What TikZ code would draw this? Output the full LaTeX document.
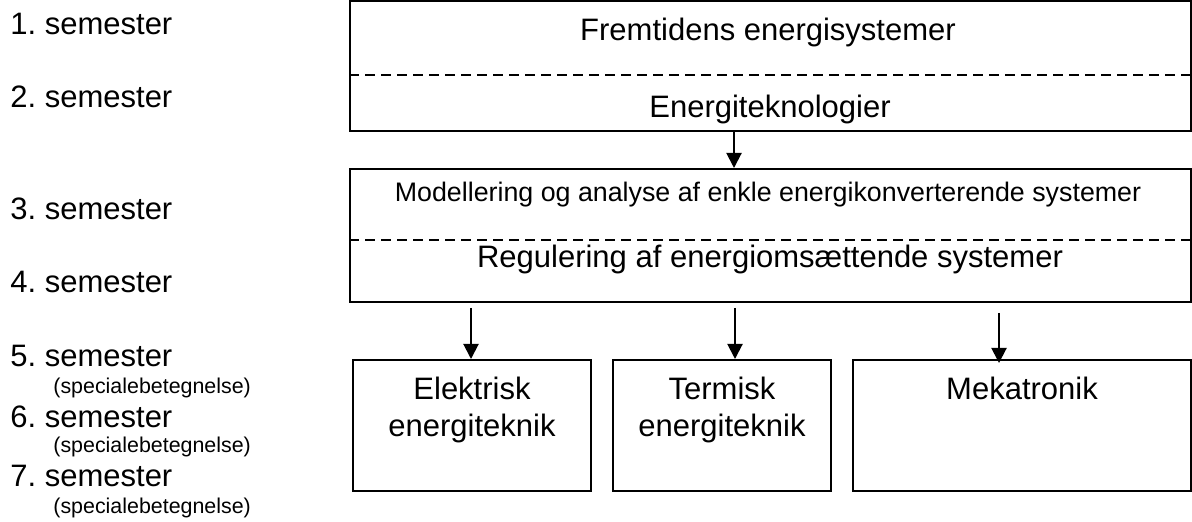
\documentclass[tikz,border=0pt]{standalone}
\usepackage{fontspec}
\setmainfont{Liberation Sans}
\usetikzlibrary{arrows.meta,positioning,calc}

\begin{document}
\frenchspacing
\begin{tikzpicture}[x=0.5pt, y=-0.5pt,
    boks/.style={rectangle, draw, line width=1pt, inner sep=0pt},
    tekst/.style={inner sep=0pt, anchor=base, align=center, font=\fontsize{15.5}{18.5}\selectfont},
    lille/.style={inner sep=0pt, anchor=base west, font=\fontsize{10.7}{13}\selectfont},
    pil/.style={-{Triangle[width=7.5pt,length=7.5pt]}, line width=1pt},
    stiplet/.style={dash pattern=on 5pt off 3pt, line width=1pt}]
    \useasboundingbox (0,0) rectangle (1192,522);

    \node[tekst, anchor=base west] (sem1) at (10,35) {1. semester};
    \node[tekst, anchor=base west] (sem2) at (10,108) {2. semester};
    \node[tekst, anchor=base west] (sem3) at (10,220) {3. semester};
    \node[tekst, anchor=base west] (sem4) at (10,293) {4. semester};
    \node[tekst, anchor=base west] (sem5) at (10,367) {5. semester};
    \node[lille] (spec5) at (53,394) {(specialebetegnelse)};
    \node[tekst, anchor=base west] (sem6) at (10,428) {6. semester};
    \node[lille] (spec6) at (53,453) {(specialebetegnelse)};
    \node[tekst, anchor=base west] (sem7) at (10,487) {7. semester};
    \node[lille] (spec7) at (53,514) {(specialebetegnelse)};

    \node[boks, minimum width=420.5pt, minimum height=65pt] (top) at (770.5,66) {};
    \draw[stiplet] (top.west |- 0,75) -- (top.east |- 0,75);
    \node[tekst] (fremtid) at (768,41) {Fremtidens energisystemer};
    \node[tekst] (teknologi) at (770,118) {Energiteknologier};

    \node[boks, minimum width=420.5pt, minimum height=66.5pt] (midt) at (770.5,235.5) {};
    \draw[stiplet] (midt.west |- 0,240) -- (midt.east |- 0,240);
    \node[tekst, font=\fontsize{13.4}{16}\selectfont] (modellering) at (768,202) {Modellering og analyse af enkle energikonverterende systemer};
    \node[tekst] (regulering) at (770,268) {Regulering af energiomsættende systemer};

    \node[boks, minimum width=119pt, minimum height=65.5pt] (elektrisk) at (472,425.5) {};
    \node[boks, minimum width=109pt, minimum height=65.5pt] (termisk) at (722,425.5) {};
    \node[boks, minimum width=169pt, minimum height=65.5pt] (mekatronik) at (1022,425.5) {};
    \node[tekst] (elektxt) at (472,437) {Elektrisk\\energiteknik};
    \node[tekst] (termtxt) at (722,437) {Termisk\\energiteknik};
    \node[tekst] (mektxt) at (1022,400) {Mekatronik};

    \coordinate (p0) at (734,0);
    \coordinate (p1) at (471,308);
    \coordinate (p2) at (735,308);
    \coordinate (p3) at (999,313);
    \draw[pil] (top.south -| p0) -- (midt.north -| p0);
    \draw[pil] (p1) -- (p1 |- elektrisk.north);
    \draw[pil] (p2) -- (p2 |- termisk.north);
    \draw[pil] (p3) -- ($(p3 |- mekatronik.north)+(0,4)$);
\end{tikzpicture}
\end{document}
